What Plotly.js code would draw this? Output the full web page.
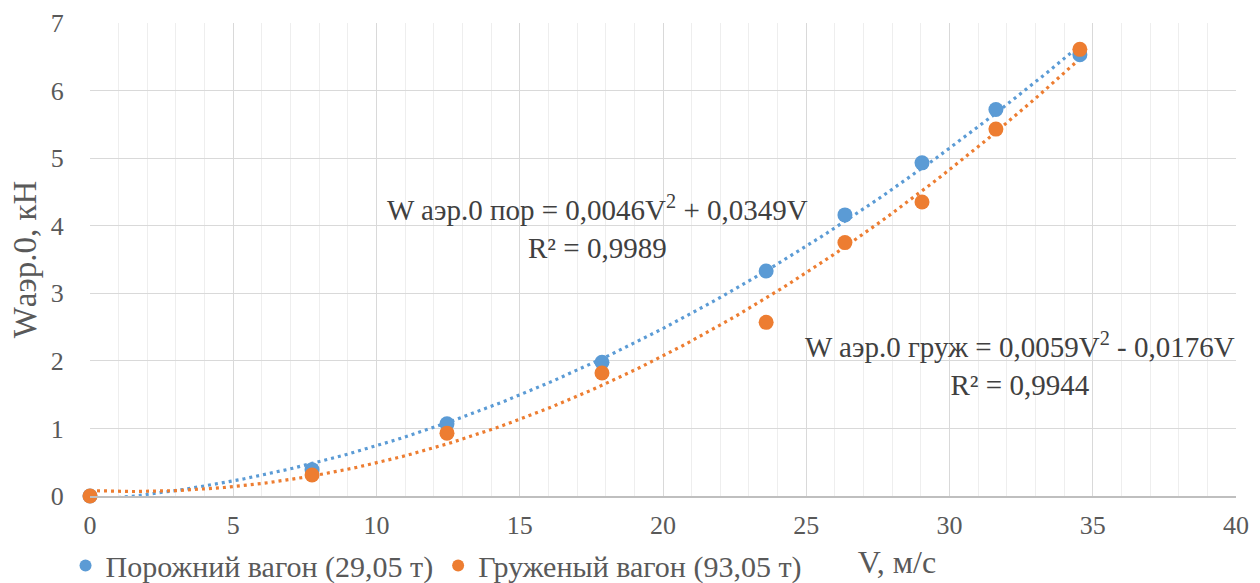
<!DOCTYPE html>
<html>
<head>
<meta charset="utf-8">
<script src="https://cdn.plot.ly/plotly-3.0.1.min.js"></script>
<style>
html,body{margin:0;padding:0;background:#fff;}
#wrap{position:relative;width:1260px;height:583px;}
#chart{width:1260px;height:583px;}
#xtitle{position:absolute;left:797px;width:200px;top:543px;text-align:center;font-family:'Liberation Serif';font-size:32px;line-height:38px;color:#595959;}
</style>
</head>
<body>
<div id="wrap">
<div id="chart"></div>
<div id="xtitle">V, м/с</div>
</div>
<script>
// Data
const speedEmpty = [0, 7.75, 12.46, 17.87, 23.6, 26.35, 29.04, 31.62, 34.55];
const forceEmpty = [0, 0.39, 1.07, 1.98, 3.33, 4.16, 4.93, 5.72, 6.53];
const speedLoaded = [0, 7.75, 12.46, 17.87, 23.6, 26.35, 29.04, 31.62, 34.55];
const forceLoaded = [0, 0.31, 0.93, 1.82, 2.57, 3.75, 4.35, 5.43, 6.61];
const nameEmpty = 'Порожний вагон (29,05 т)';
const nameLoaded = 'Груженый вагон (93,05 т)';
const eqEmpty = 'W аэр.0 пор = 0,0046V<sup>2</sup> + 0,0349V<br>R² = 0,9989';
const eqLoaded = 'W аэр.0 груж = 0,0059V<sup>2</sup> - 0,0176V<br>R² = 0,9944';
const xTicks = [0, 5, 10, 15, 20, 25, 30, 35, 40];
const yTicks = [0, 1, 2, 3, 4, 5, 6, 7];

// Least-squares 2nd order polynomial trendline (like Excel)
function polyFit2(xs, ys) {
  let S = [0,0,0,0,0], T = [0,0,0];
  for (let i = 0; i < xs.length; i++) {
    let p = 1;
    for (let k = 0; k < 5; k++) { S[k] += p; if (k < 3) T[k] += p * ys[i]; p *= xs[i]; }
  }
  const A = [[S[0],S[1],S[2],T[0]],[S[1],S[2],S[3],T[1]],[S[2],S[3],S[4],T[2]]];
  for (let c = 0; c < 3; c++) {
    for (let r = c + 1; r < 3; r++) {
      const f = A[r][c] / A[c][c];
      for (let k = c; k < 4; k++) A[r][k] -= f * A[c][k];
    }
  }
  const b = [0,0,0];
  for (let r = 2; r >= 0; r--) {
    let s = A[r][3];
    for (let k = r + 1; k < 3; k++) s -= A[r][k] * b[k];
    b[r] = s / A[r][r];
  }
  return b;
}
function trend(xs, ys) {
  const b = polyFit2(xs, ys);
  const x0 = Math.min(...xs), x1 = Math.max(...xs);
  const tx = [], ty = [];
  const n = 200;
  for (let i = 0; i <= n; i++) {
    const x = x0 + (x1 - x0) * i / n;
    tx.push(x); ty.push(b[0] + b[1] * x + b[2] * x * x);
  }
  return {tx, ty};
}
const tE = trend(speedEmpty, forceEmpty);
const tL = trend(speedLoaded, forceLoaded);

const blue = '#5B9BD5', orange = '#ED7D31';
const serif = 'Liberation Serif';

const traces = [
  {x: tE.tx, y: tE.ty, mode: 'lines', line: {color: blue, width: 3.2, dash: '3px,4px'}, showlegend: false, hoverinfo: 'skip'},
  {x: tL.tx, y: tL.ty, mode: 'lines', line: {color: orange, width: 3.2, dash: '3px,4px'}, showlegend: false, hoverinfo: 'skip'},
  {x: speedEmpty, y: forceEmpty, mode: 'markers', name: nameEmpty, marker: {color: blue, size: 15}, cliponaxis: false},
  {x: speedLoaded, y: forceLoaded, mode: 'markers', name: nameLoaded, marker: {color: orange, size: 15}, cliponaxis: false}
];

const layout = {
  width: 1260, height: 583,
  margin: {l: 90, r: 24, t: 23, b: 87, autoexpand: false},
  paper_bgcolor: 'rgba(0,0,0,0)', plot_bgcolor: '#fff',
  showlegend: true,
  legend: {orientation: 'h', xref: 'container', yref: 'container', x: 0.052, xanchor: 'left', y: 0.03, yanchor: 'middle',
           font: {family: serif, size: 30, color: '#595959'}, itemsizing: 'constant', tracegroupgap: 0, itemwidth: 30},
  xaxis: {
    range: [0, 40], tickvals: xTicks, ticktext: xTicks.map(String),
    showgrid: true, gridcolor: '#d9d9d9', gridwidth: 1,
    minor: {dtick: 1, showgrid: true, gridcolor: '#eeeeee', gridwidth: 1},
    zeroline: false, showline: true, linecolor: '#bfbfbf', linewidth: 1.5, mirror: false,
    ticks: 'outside', ticklen: 5, tickcolor: 'rgba(0,0,0,0)',
    tickfont: {family: serif, size: 26, color: '#595959'}, fixedrange: true
  },
  yaxis: {
    range: [0, 7], tickvals: yTicks, ticktext: yTicks.map(String),
    showgrid: true, gridcolor: '#d9d9d9', gridwidth: 1,
    zeroline: false, showline: false,
    ticks: 'outside', ticklen: 20, tickcolor: 'rgba(0,0,0,0)',
    tickfont: {family: serif, size: 26, color: '#595959'},
    title: {text: 'Wаэр.0, кН', font: {family: serif, size: 33, color: '#595959'}, standoff: 4},
    fixedrange: true
  },
  annotations: [
    {xref: 'x', yref: 'y', x: 17.73, y: 3.98, text: eqEmpty, showarrow: false, align: 'center',
     font: {family: serif, size: 29, color: '#404040'}},
    {xref: 'x', yref: 'y', x: 32.46, y: 1.95, text: eqLoaded, showarrow: false, align: 'center',
     font: {family: serif, size: 29, color: '#404040'}}
  ]
};

function draw() { Plotly.newPlot('chart', traces, layout, {displayModeBar: false, staticPlot: true}); }
if (document.fonts && document.fonts.ready) {
  document.fonts.load('30px "Liberation Serif"', 'Wаэр0').then(() => document.fonts.ready).then(draw, draw);
} else { draw(); }
</script>
</body>
</html>
